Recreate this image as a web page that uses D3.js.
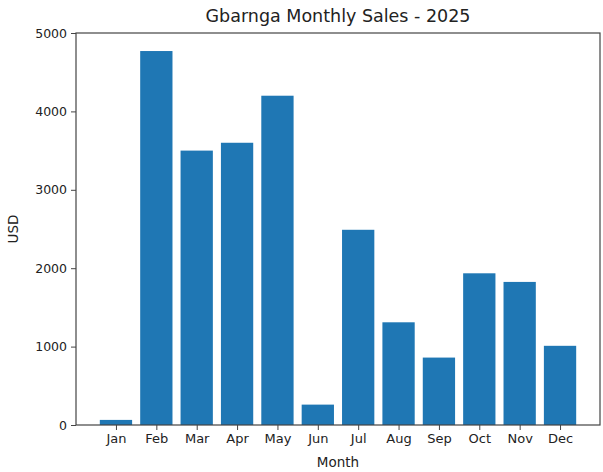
<!DOCTYPE html>
<html>
<head>
<meta charset="utf-8">
<script src="https://cdn.jsdelivr.net/npm/d3@7"></script>
<style>
    body { margin: 0; background: #fff; }
    text { font-family: "DejaVu Sans", sans-serif; fill: #222; }
</style>
</head>
<body>
<div id="chart"></div>
<script>
// chart data
const months = ["Jan", "Feb", "Mar", "Apr", "May", "Jun", "Jul", "Aug", "Sep", "Oct", "Nov", "Dec"];
const sales = [65, 4770, 3500, 3600, 4200, 260, 2490, 1310, 860, 1935, 1825, 1010];
const yTicks = [0, 1000, 2000, 3000, 4000, 5000];

const width = 603, height = 472;
const margin = {top: 33, right: 3, bottom: 47, left: 76};
const plotW = width - margin.left - margin.right;
const plotH = height - margin.top - margin.bottom;

const svg = d3.select("#chart").append("svg")
    .attr("width", width).attr("height", height);

const g = svg.append("g")
    .attr("transform", `translate(${margin.left},${margin.top})`);

// matplotlib-like x range: bars of width 0.8 with 5% margins
const idx = months.map((m, i) => i);
const x = d3.scaleLinear()
    .domain([-0.99, months.length - 1 + 0.99])
    .range([0, plotW]);

const y = d3.scaleLinear()
    .domain([0, 5000])
    .range([plotH, 0]);

// bars
g.selectAll("rect.bar")
    .data(sales)
    .enter().append("rect")
    .attr("class", "bar")
    .attr("x", (d, i) => x(i - 0.4))
    .attr("width", x(0.8) - x(0))
    .attr("y", d => y(d))
    .attr("height", d => y(0) - y(d))
    .attr("fill", "#1f77b4");

// x axis
const xAxis = g.append("g")
    .attr("transform", `translate(0,${plotH})`)
    .call(d3.axisBottom(x).tickValues(idx).tickFormat(i => months[i]).tickSize(5).tickPadding(4));
xAxis.select(".domain").remove();
xAxis.selectAll("line").attr("stroke", "#444");
xAxis.selectAll("text").style("font-size", "13px").attr("fill", "#222");

// y axis
const yAxis = g.append("g")
    .call(d3.axisLeft(y).tickValues(yTicks).tickFormat(d3.format("d")).tickSize(5).tickPadding(4));
yAxis.select(".domain").remove();
yAxis.selectAll("line").attr("stroke", "#444");
yAxis.selectAll("text").style("font-size", "12.5px").attr("fill", "#222");

// frame (spines)
g.append("rect")
    .attr("width", plotW).attr("height", plotH)
    .attr("fill", "none")
    .attr("stroke", "#444")
    .attr("stroke-width", 1.2);

// title and labels
svg.append("text")
    .attr("x", margin.left + plotW / 2).attr("y", 22)
    .attr("text-anchor", "middle")
    .style("font-size", "17.5px")
    .text("Gbarnga Monthly Sales - 2025");

svg.append("text")
    .attr("x", margin.left + plotW / 2).attr("y", 467)
    .attr("text-anchor", "middle")
    .style("font-size", "13.5px")
    .text("Month");

svg.append("text")
    .attr("transform", `translate(18,${margin.top + plotH / 2}) rotate(-90)`)
    .attr("text-anchor", "middle")
    .style("font-size", "13.5px")
    .text("USD");
</script>
</body>
</html>
